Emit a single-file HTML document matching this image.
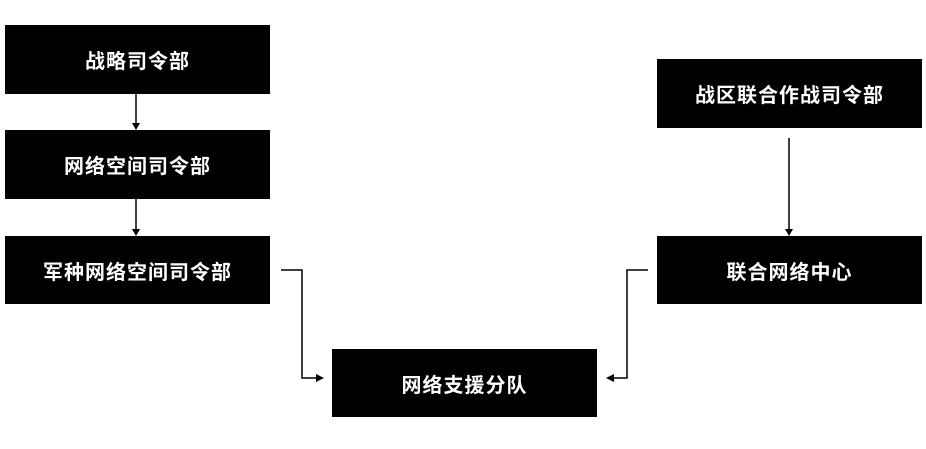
<!DOCTYPE html>
<html><head><meta charset="utf-8"><style>
body{margin:0;width:926px;height:449px;background:#fff;position:relative;overflow:hidden;font-family:"Liberation Sans","Noto Sans CJK SC",sans-serif}
.b{position:absolute;background:#000;color:#fff;font-weight:bold;font-size:20px;display:flex;align-items:center;justify-content:center;letter-spacing:1px}
svg{position:absolute;left:0;top:0}
</style></head><body>
<div class="b" style="left:5px;top:25px;width:265px;height:69px">战略司令部</div>
<div class="b" style="left:5px;top:130px;width:265px;height:69px">网络空间司令部</div>
<div class="b" style="left:5px;top:236px;width:265px;height:68px">军种网络空间司令部</div>
<div class="b" style="left:332px;top:349px;width:265px;height:68px">网络支援分队</div>
<div class="b" style="left:657px;top:59px;width:265px;height:69px">战区联合作战司令部</div>
<div class="b" style="left:657px;top:236px;width:265px;height:68px">联合网络中心</div>
<svg width="926" height="449">
<g stroke="#000" stroke-width="1.5" fill="none">
<path d="M136 94V124"/><path d="M136 199V230"/>
<path d="M281 270H302V378H318"/>
<path d="M648 270H627V378H612"/>
<path d="M789 138V230"/>
</g>
<g fill="#000">
<path d="M132 123L140 123L136 130Z"/>
<path d="M132 229L140 229L136 236Z"/>
<path d="M316 374L324 378L316 382Z"/>
<path d="M614 374L606 378L614 382Z"/>
<path d="M785 229L793 229L789 236Z"/>
</g>
</svg>
</body></html>
